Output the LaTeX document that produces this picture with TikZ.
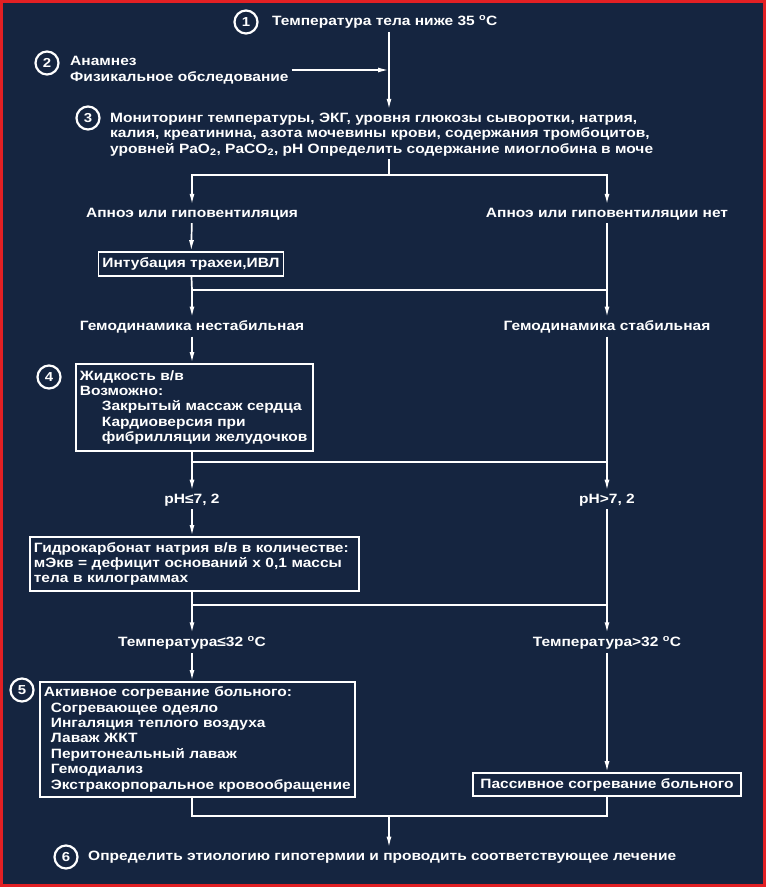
\documentclass[tikz,border=0pt]{standalone}
\usepackage{fontspec}
\setmainfont{Liberation Sans}[FakeStretch=1.15]
\usetikzlibrary{positioning}
\usetikzlibrary{calc}
\usetikzlibrary{arrows.meta}
\definecolor{bgnavy}{RGB}{21,37,64}
\definecolor{edgered}{RGB}{226,32,36}
\newcommand{\flowfont}{\fontsize{13.5}{15.4}\selectfont\bfseries}

\begin{document}
\begin{tikzpicture}[x=1pt,y=-1pt,
  every node/.style={text=white,inner sep=3pt},
  lbl/.style={font=\flowfont,align=left},
  num/.style={draw=white,circle,line width=2.2pt,inner sep=0pt,minimum size=23pt,font=\bfseries\fontsize{13}{13}\selectfont},
  box/.style={draw=white,line width=1.7pt,inner xsep=4pt,inner ysep=3pt,font=\flowfont,align=left},
  line/.style={draw=white,line width=1.7pt},
  arr/.style={line,-{Latex[length=11pt,width=5pt]}}]
\fill[bgnavy] (0,0) rectangle (766,887);
\draw[edgered,line width=3pt] (1.5,1.5) rectangle (764.5,885.5);
% numbered steps
\node[num] (c1) at (246,22) {1};
\node[num] (c2) at (47,63) {2};
\node[num] (c3) at (88,118) {3};
\node[num] (c4) at (49,377) {4};
\node[num] (c5) at (22,690) {5};
\node[num] (c6) at (66,857) {6};
% texts
\node[lbl,anchor=west] (t1) at (269,22) {Температура тела ниже 35 \textsuperscript{o}C};
\node[lbl,anchor=west] (t2) at (67,70) {Анамнез\\Физикальное обследование};
\node[lbl,anchor=west] (t3) at (107,134.5) {Мониторинг температуры, ЭКГ, уровня глюкозы сыворотки, натрия,\\
  калия, креатинина, азота мочевины крови, содержания тромбоцитов,\\
  уровней PaO\textsubscript{2}, PaCO\textsubscript{2}, pH Определить содержание миоглобина в моче};
\node[lbl] (apL) at (192,214) {Апноэ или гиповентиляция};
\node[lbl] (apR) at (607,214) {Апноэ или гиповентиляции нет};
\node[box,align=center,minimum width=184pt,minimum height=24pt] (intub) at (191,264) {Интубация трахеи,ИВЛ};
\node[lbl] (hdL) at (192,327) {Гемодинамика нестабильная};
\node[lbl] (hdR) at (607,327) {Гемодинамика стабильная};
\node[box,anchor=north west,minimum width=237pt,minimum height=87pt,text width=229pt] (b4) at (75,363)
  {Жидкость в/в\\Возможно:\\\hspace*{22pt}Закрытый массаж сердца\\\hspace*{22pt}Кардиоверсия при\\\hspace*{22pt}фибрилляции желудочков};
\node[lbl] (phL) at (192,500) {pH≤7, 2};
\node[lbl] (phR) at (607,500) {pH>7, 2};
\node[box,anchor=north west,minimum width=329pt,minimum height=54pt,text width=321pt] (bic) at (29,536)
  {Гидрокарбонат натрия в/в в количестве:\\мЭкв = дефицит оснований х 0,1 массы\\тела в килограммах};
\node[lbl] (tL) at (192,643) {Температура≤32 \textsuperscript{o}C};
\node[lbl] (tR) at (607,643) {Температура>32 \textsuperscript{o}C};
\node[box,anchor=north west,minimum width=315pt,minimum height=115pt,text width=307pt] (b5) at (39,681)
  {Активное согревание больного:\\\hspace*{7pt}Согревающее одеяло\\\hspace*{7pt}Ингаляция теплого воздуха\\\hspace*{7pt}Лаваж ЖКТ\\\hspace*{7pt}Перитонеальный лаваж\\\hspace*{7pt}Гемодиализ\\\hspace*{7pt}Экстракорпоральное кровообращение};
\node[box,align=center,minimum width=268pt,minimum height=23pt] (pas) at (607,784.5) {Пассивное согревание больного};
\node[lbl,anchor=west] (t6) at (85,857) {Определить этиологию гипотермии и проводить соответствующее лечение};
% junctions
\coordinate (ax) at (389,0);
\coordinate (j1) at (389,175);
\coordinate (j2) at (192,290);
\coordinate (j3) at (192,462);
\coordinate (j4) at (192,605);
\coordinate (j5) at (192,816);
\coordinate (j6) at (389,816);
% connectors
\draw[arr] (t1.south -| ax) -- (t3.north -| ax);
\draw[arr] (t2.east) -- (t2.east -| ax);
\draw[line] (t3.south -| ax) -- (j1);
\draw[arr] (j1) -| (apL);
\draw[arr] (j1) -| (apR);
\draw[arr] (apL) -- (intub);
\draw[line] (intub) -- (j2) -- (j2 -| apR);
\draw[arr] (j2) -- (hdL);
\draw[arr] (apR) -- (hdR);
\draw[arr] (hdL) -- (hdL |- b4.north);
\draw[line] (b4.south -| hdL) -- (j3) -- (j3 -| hdR);
\draw[arr] (j3) -- (phL);
\draw[arr] (hdR) -- (phR);
\draw[arr] (phL) -- (phL |- bic.north);
\draw[line] (bic.south -| phL) -- (j4) -- (j4 -| phR);
\draw[arr] (j4) -- (tL);
\draw[arr] (phR) -- (tR);
\draw[arr] (tL) -- (tL |- b5.north);
\draw[arr] (tR) -- (pas);
\draw[line] (b5.south -| tL) -- (j5) -- (j5 -| tR) -- (pas);
\draw[arr] (j6) -- (j6 |- t6.north);
\end{tikzpicture}
\end{document}
